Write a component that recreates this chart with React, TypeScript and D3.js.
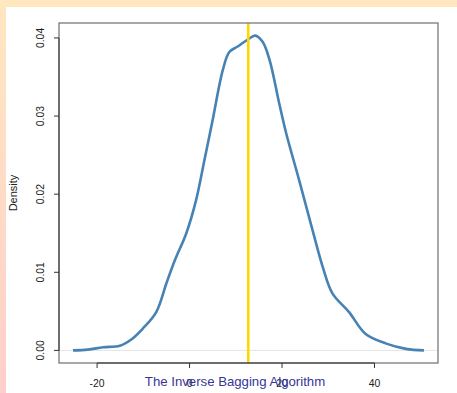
import React from "react";
import * as d3 from "d3";

// Kernel density estimate of the bagged statistic
const densityX = [-25.2, -22, -18.7, -15.1, -12.6, -10.1, -7.2, -5.0, -3.2, -0.7, 1.4, 3.2, 5.0, 7.2, 8.6, 10.4, 12.6, 14.2, 15.8, 17.3, 19.4, 20.9, 23.7, 26.6, 28.8, 30.9, 34.5, 38.1, 42.4, 46.8, 50.7];
const densityY = [0, 0.0001, 0.0004, 0.0006, 0.0014, 0.0028, 0.0049, 0.0086, 0.0115, 0.015, 0.0192, 0.0243, 0.0295, 0.0359, 0.0382, 0.0389, 0.0398, 0.0403, 0.0395, 0.0372, 0.0316, 0.0278, 0.0218, 0.0154, 0.0107, 0.0073, 0.0049, 0.0021, 0.0009, 0.0002, 0];
const markerX = 12.7;

const xTicks = [-20, 0, 20, 40];
const yTicks = [0, 0.01, 0.02, 0.03, 0.04];
const titleText = "The Inverse Bagging Algorithm";
const yLabel = "Density";

const W = 457;
const H = 393;
const plot = { left: 59, right: 438, top: 23, bottom: 363 };

export default function App() {
  const xMin = d3.min(densityX)!;
  const xMax = d3.max(densityX)!;
  const yMax = d3.max(densityY)!;
  const xPad = (xMax - xMin) * 0.04;
  const yPad = yMax * 0.04;
  const x = d3.scaleLinear().domain([xMin - xPad, xMax + xPad]).range([plot.left, plot.right]);
  const y = d3.scaleLinear().domain([-yPad, yMax + yPad]).range([plot.bottom, plot.top]);

  const pts: [number, number][] = densityX.map((v, i) => [v, densityY[i]]);
  const line = d3
    .line<[number, number]>()
    .x((d) => x(d[0]))
    .y((d) => y(d[1]))
    .curve(d3.curveCatmullRom.alpha(0.5));

  const font = "'Liberation Sans', Arial, Helvetica, sans-serif";

  return (
    <svg
      width={W}
      height={H}
      style={{ position: "absolute", left: 0, top: 0 }}
      fontFamily={font}
    >
      <defs>
        <linearGradient id="edge" x1="0" y1="0" x2="0" y2="1">
          <stop offset="0" stopColor="#ffe7c1" />
          <stop offset="1" stopColor="#ffcfcb" />
        </linearGradient>
      </defs>
      <rect x={0} y={0} width={W} height={H} fill="url(#edge)" />
      <rect x={0} y={0} width={W} height={7} fill="#ffe8bf" />
      <rect x={6} y={7} width={W - 6} height={H - 7} fill="#ffffff" />

      {/* zero reference line */}
      <line x1={plot.left} x2={plot.right} y1={y(0)} y2={y(0)} stroke="#e4e4e4" strokeWidth={1} />

      {/* density curve */}
      <path d={line(pts) ?? ""} fill="none" stroke="#4682b4" strokeWidth={2.6} strokeLinejoin="round" />

      {/* marker line */}
      <line x1={x(markerX)} x2={x(markerX)} y1={plot.top} y2={plot.bottom} stroke="#ffd700" strokeWidth={2.6} />

      {/* plot frame */}
      <rect
        x={plot.left}
        y={plot.top}
        width={plot.right - plot.left}
        height={plot.bottom - plot.top}
        fill="none"
        stroke="#6e6e6e"
        strokeWidth={1.2}
      />

      {/* x axis */}
      <g stroke="#333" strokeWidth={1}>
        <line x1={x(xTicks[0])} x2={x(xTicks[xTicks.length - 1])} y1={plot.bottom} y2={plot.bottom} />
        {xTicks.map((t) => (
          <line key={t} x1={x(t)} x2={x(t)} y1={plot.bottom} y2={plot.bottom + 5} />
        ))}
      </g>
      {xTicks.map((t) => (
        <text key={t} x={x(t)} y={386.5} textAnchor="middle" fontSize={10.4} fill="#222">
          {t}
        </text>
      ))}

      {/* y axis */}
      <g stroke="#333" strokeWidth={1}>
        <line x1={plot.left} x2={plot.left} y1={y(yTicks[0])} y2={y(yTicks[yTicks.length - 1])} />
        {yTicks.map((t) => (
          <line key={t} x1={plot.left - 5} x2={plot.left} y1={y(t)} y2={y(t)} />
        ))}
      </g>
      {yTicks.map((t) => (
        <text
          key={t}
          transform={`translate(44,${y(t)}) rotate(-90)`}
          textAnchor="middle"
          fontSize={10.4}
          fill="#222"
        >
          {d3.format(".2f")(t)}
        </text>
      ))}

      <text
        transform={`translate(17,${(plot.top + plot.bottom) / 2}) rotate(-90)`}
        textAnchor="middle"
        fontSize={11}
        fill="#222"
      >
        {yLabel}
      </text>

      <text x={235} y={386} textAnchor="middle" fontSize={13.2} fill="#35359a">
        {titleText}
      </text>
    </svg>
  );
}
